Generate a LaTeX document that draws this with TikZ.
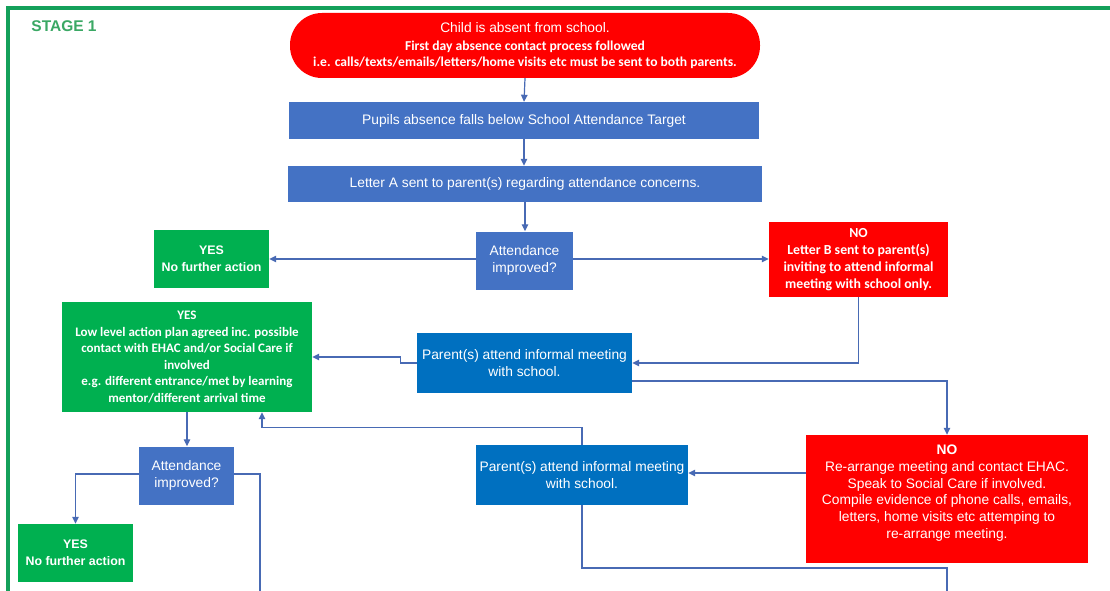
\documentclass[tikz,border=0pt]{standalone}
\usepackage{fontspec}
\setmainfont{Liberation Sans}
\newfontfamily\carlitofont{Carlito}
\usetikzlibrary{arrows.meta,calc}
\definecolor{offblue}{HTML}{4472C4}
\definecolor{pmblue}{HTML}{0070C0}
\definecolor{offred}{HTML}{FF0000}
\definecolor{offgreen}{HTML}{00B050}
\definecolor{framegreen}{RGB}{20,160,90}
\definecolor{stagegreen}{RGB}{58,168,100}
\definecolor{linkblue}{RGB}{72,106,180}
\begin{document}
\begin{tikzpicture}[x=1pt,y=-1pt,
  box/.style={draw=none,inner sep=0pt,align=center,text=white,anchor=center},
  bluebox/.style={box,fill=offblue,font=\fontsize{13.8}{17}\selectfont},
  pmbox/.style={box,fill=pmblue,font=\fontsize{13.8}{17}\selectfont},
  redbox/.style={box,fill=offred,font=\carlitofont\bfseries\fontsize{13.8}{17}\selectfont},
  greenbox/.style={box,fill=offgreen,font=\carlitofont\bfseries\fontsize{13}{16.5}\selectfont},
  yesbox/.style={box,fill=offgreen,font=\bfseries\fontsize{12.4}{17}\selectfont},
  arr/.style={draw=linkblue,line width=1.2pt,-{Triangle[length=7pt,width=6.5pt]}},
  ln/.style={draw=linkblue,line width=1.2pt}]
\useasboundingbox (0,0) rectangle (1110,591);
\fill[white] (0,0) rectangle (1110,591);
\coordinate (f1) at (8,595);
\coordinate (f2) at (8,8);
\coordinate (f3) at (1114,8);
\draw[framegreen,line width=3.5pt] (f1) -- (f2) -- (f3);
\node[font=\bfseries\fontsize{15.5}{17}\selectfont,text=stagegreen] (stage) at (64,26) {STAGE 1};

\node[box,fill=offred,minimum width=470,minimum height=65,rounded corners=32pt,
      font=\carlitofont\bfseries\fontsize{13.6}{16.5}\selectfont] (start) at (525,45.5)
  {{\normalfont\fontsize{13.8}{16.5}\selectfont Child is absent from school.}\\[1.5pt]
   First day absence contact process followed\\
   i.e. calls/texts/emails/letters/home visits etc must be sent to both parents.};
\node[bluebox,minimum width=470,minimum height=37] (pupils) at (524,120.5) {Pupils absence falls below School Attendance Target};
\node[bluebox,minimum width=474,minimum height=36] (lettera) at (525,184) {Letter A sent to parent(s) regarding attendance concerns.};
\node[bluebox,minimum width=97,minimum height=58] (ai1) at (524.5,260.5) {Attendance\\improved?};
\node[yesbox,minimum width=115,minimum height=58] (yes1) at (211.5,259) {YES\\No further action};
\node[redbox,minimum width=179,minimum height=75] (no1) at (858.5,259.5) {NO\\Letter B sent to parent(s)\\inviting to attend informal\\meeting with school only.};
\node[pmbox,minimum width=215,minimum height=60] (pm1) at (524.5,363) {Parent(s) attend informal meeting\\with school.};
\node[greenbox,minimum width=250,minimum height=110] (yes2) at (187,357) {YES\\Low level action plan agreed inc. possible\\contact with EHAC and/or Social Care if\\involved\\e.g. different entrance/met by learning\\mentor/different arrival time};
\node[box,fill=offred,minimum width=282,minimum height=128,font=\fontsize{13.8}{16.8}\selectfont] (no2) at (947,499) {\textbf{NO}\\Re-arrange meeting and contact EHAC.\\Speak to Social Care if involved.\\Compile evidence of phone calls, emails,\\letters, home visits etc attemping to\\re-arrange meeting.\\[-2pt]\mbox{}};
\node[pmbox,minimum width=212,minimum height=60] (pm2) at (582,475) {Parent(s) attend informal meeting\\with school.};
\node[bluebox,minimum width=95,minimum height=58] (ai2) at (186.5,475.5) {Attendance\\improved?};
\node[yesbox,minimum width=115,minimum height=58] (yes3) at (75.5,553) {YES\\No further action};

\coordinate (e1) at (947,595);
\coordinate (e2) at (260,595);

\draw[arr] (start.south) -- (pupils.north);
\draw[arr] (pupils.south) -- (pupils.south |- lettera.north);
\draw[arr] (lettera.south) -- (lettera.south |- ai1.north);
\draw[arr] (ai1.west |- 0,259) -- (yes1.east);
\draw[arr] (ai1.east |- 0,259) -- (no1.west |- 0,259);
\draw[arr] (no1.south) |- (pm1.east);
\draw[arr] (pm1.west) -- ++(-16,0) |- (yes2.east);
\draw[arr] ($(pm1.east)+(0,18)$) -| (no2.north);
\draw[arr] (no2.west |- 0,473) -- (pm2.east |- 0,473);
\draw[arr] (pm2.north) -- ++(0,-17) -| ($(yes2.south)+(75,0)$);
\draw[ln] (pm2.south) |- (947,568) -- (e1);
\draw[arr] (yes2.south) -- (yes2.south |- ai2.north);
\draw[arr] (ai2.west |- 0,474) -| (yes3.north);
\draw[ln] (ai2.east |- 0,474) -| (e2);
\end{tikzpicture}
\end{document}
